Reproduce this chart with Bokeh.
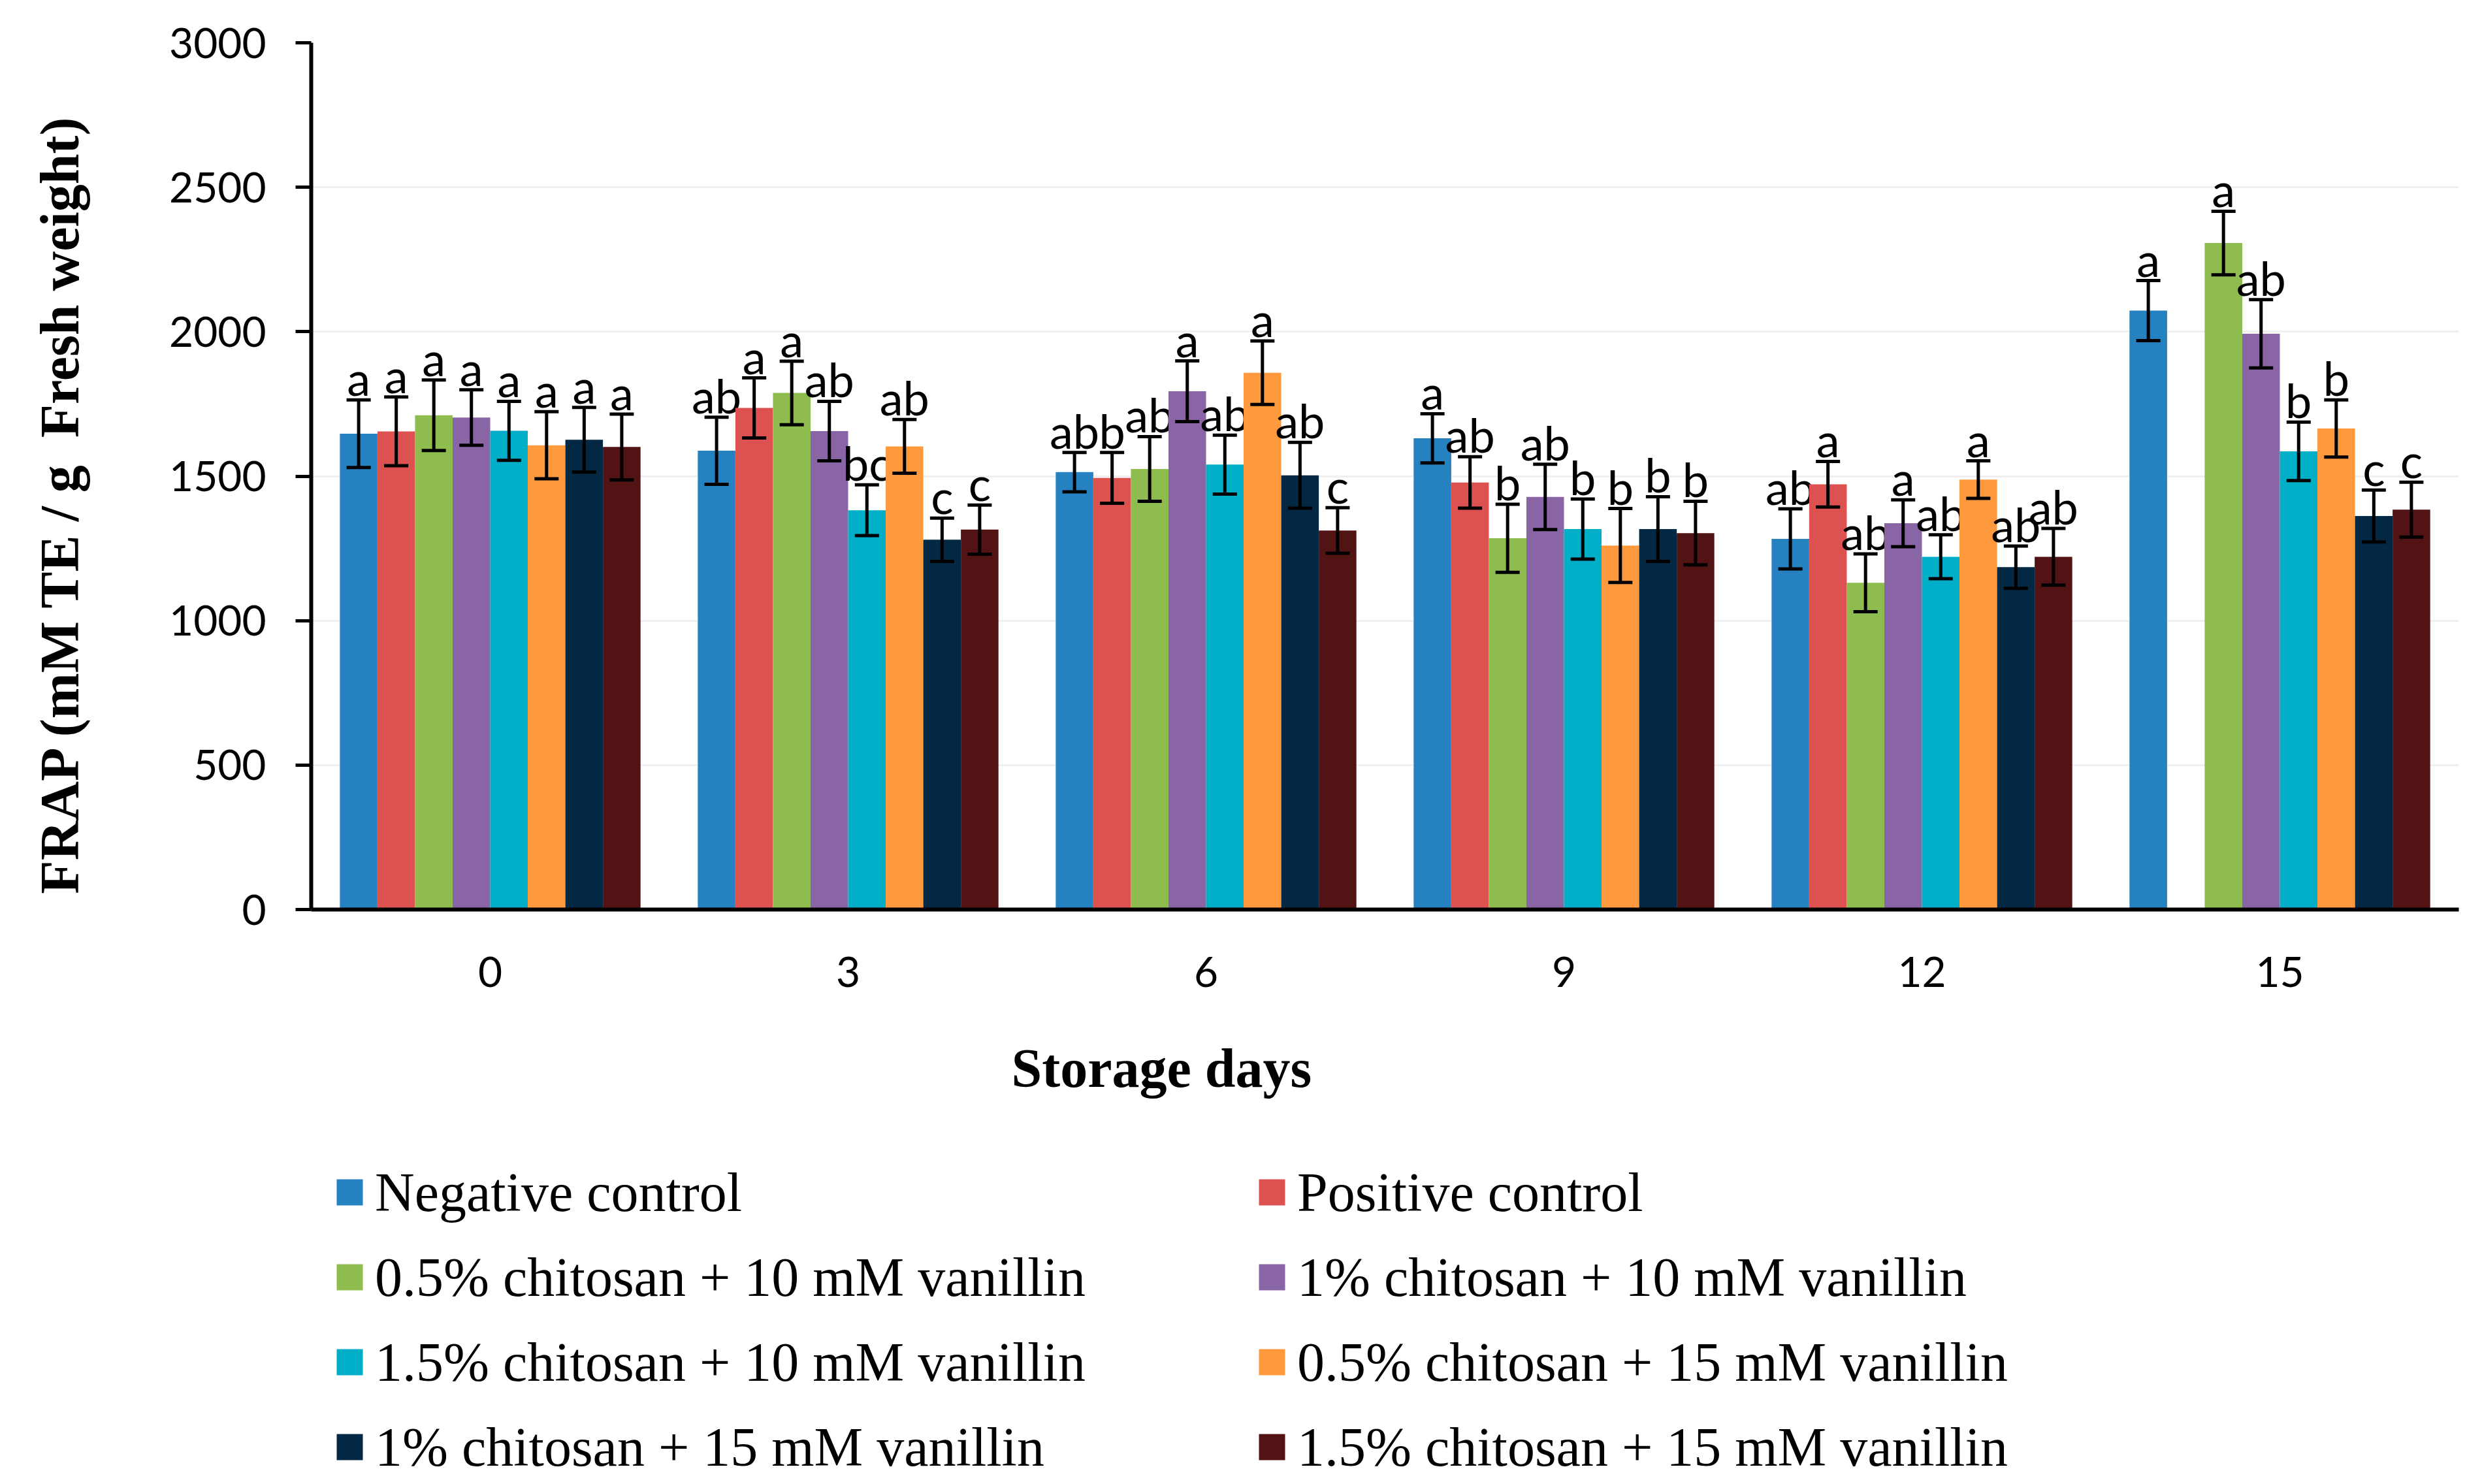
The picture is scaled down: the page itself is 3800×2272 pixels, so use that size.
from bokeh.plotting import figure
from bokeh.models import (ColumnDataSource, FactorRange, Range1d, Legend, LegendItem,
                          Title, FixedTicker)
from bokeh.layouts import column
from bokeh.transform import dodge
from bokeh.core.properties import value
from bokeh.embed import file_html
from bokeh.resources import INLINE

nan = float("nan")

days = ["0", "3", "6", "9", "12", "15"]
y_ticks = [0, 500, 1000, 1500, 2000, 2500, 3000]

series_names = [
    "Negative control",
    "Positive control",
    "0.5% chitosan + 10 mM vanillin",
    "1% chitosan + 10 mM vanillin",
    "1.5% chitosan + 10 mM vanillin",
    "0.5% chitosan + 15 mM vanillin",
    "1% chitosan + 15 mM vanillin",
    "1.5% chitosan + 15 mM vanillin",
]
colors = ["#2681C1", "#DD5150", "#8FBC4F", "#8A65A5", "#00AEC7", "#FE9A3D", "#032843", "#521314"]

neg_control = [1647, 1588, 1514, 1631, 1283, 2073]
pos_control = [1655, 1736, 1494, 1478, 1472, nan]
chi05_van10 = [1711, 1788, 1525, 1285, 1131, 2307]
chi1_van10 = [1703, 1656, 1794, 1428, 1337, 1993]
chi15_van10 = [1657, 1382, 1540, 1317, 1221, 1586]
chi05_van15 = [1607, 1603, 1858, 1260, 1488, 1665]
chi1_van15 = [1626, 1280, 1503, 1317, 1185, 1362]
chi15_van15 = [1601, 1315, 1312, 1303, 1221, 1384]

neg_control_err = [117, 116, 68, 85, 104, 104]
pos_control_err = [119, 104, 88, 89, 79, nan]
chi05_van10_err = [122, 110, 112, 118, 100, 110]
chi1_van10_err = [96, 103, 105, 113, 81, 118]
chi15_van10_err = [102, 88, 102, 104, 76, 101]
chi05_van15_err = [116, 93, 110, 128, 65, 99]
chi1_van15_err = [112, 75, 114, 112, 73, 90]
chi15_van15_err = [114, 85, 79, 110, 98, 95]

neg_control_lbl = ["a", "ab", "ab", "a", "ab", "a"]
pos_control_lbl = ["a", "a", "b", "ab", "a", ""]
chi05_van10_lbl = ["a", "a", "ab", "b", "ab", "a"]
chi1_van10_lbl = ["a", "ab", "a", "ab", "a", "ab"]
chi15_van10_lbl = ["a", "bc", "ab", "b", "ab", "b"]
chi05_van15_lbl = ["a", "ab", "a", "b", "a", "b"]
chi1_van15_lbl = ["a", "c", "ab", "b", "ab", "c"]
chi15_van15_lbl = ["a", "c", "c", "b", "ab", "c"]

means = [neg_control, pos_control, chi05_van10, chi1_van10, chi15_van10, chi05_van15, chi1_van15, chi15_van15]
errs = [neg_control_err, pos_control_err, chi05_van10_err, chi1_van10_err, chi15_van10_err,
        chi05_van15_err, chi1_van15_err, chi15_van15_err]
lbls = [neg_control_lbl, pos_control_lbl, chi05_van10_lbl, chi1_van10_lbl, chi15_van10_lbl,
        chi05_van15_lbl, chi1_van15_lbl, chi15_van15_lbl]

W = 3784
H1 = 1554
H2 = 2256 - H1
FRAME_LEFT = 476
FRAME_RIGHT_GAP = 20

p = figure(x_range=FactorRange(*days, range_padding=0, factor_padding=0),
           y_range=Range1d(0, 3000),
           width=W, height=H1, output_backend="svg", toolbar_location=None,
           min_border_left=FRAME_LEFT, min_border_right=FRAME_RIGHT_GAP, min_border_top=65,
           min_border_bottom=H1 - 1392)
p.background_fill_color = "white"
p.border_fill_color = "white"
p.outline_line_color = None

bar_w = 0.105
sources = []
for k in range(8):
    off = (k - 3.5) * bar_w
    src = ColumnDataSource(dict(
        day=days,
        val=means[k],
        lo=[m - e for m, e in zip(means[k], errs[k])],
        hi=[m + e for m, e in zip(means[k], errs[k])],
        lbl=lbls[k],
    ))
    sources.append(src)
    xd = dodge("day", off, range=p.x_range)
    p.vbar(x=xd, top="val", width=bar_w, source=src, fill_color=colors[k], line_color=None)
    p.segment(x0=xd, y0="lo", x1=xd, y1="hi", source=src, line_color="black", line_width=5)
    p.scatter(x=xd, y="hi", source=src, marker="dash", size=37, line_color="black", line_width=5)
    p.scatter(x=xd, y="lo", source=src, marker="dash", size=37, line_color="black", line_width=5)
    p.text(x=xd, y="hi", text="lbl", source=src, text_align="center", text_baseline="alphabetic",
           y_offset=-34, text_font=value("Lato"), text_font_size=value("72px"), text_color="black")

# axes
p.yaxis.ticker = FixedTicker(ticks=y_ticks)
p.yaxis.axis_line_width = 6
p.yaxis.axis_line_color = "black"
p.yaxis.major_tick_out = 24
p.yaxis.major_tick_in = 0
p.yaxis.major_tick_line_width = 5
p.yaxis.minor_tick_line_color = None
p.yaxis.major_label_standoff = 45
p.yaxis.major_label_text_font = "Lato"
p.yaxis.major_label_text_font_size = "64px"
p.yaxis.major_label_text_color = "black"
p.yaxis.axis_label = "FRAP (mM TE / g \u00a0Fresh weight)\u00a0\u00a0\u00a0\u00a0"
p.yaxis.axis_label_text_font = "Liberation Serif"
p.yaxis.axis_label_text_font_style = "bold"
p.yaxis.axis_label_text_font_size = "84px"
p.yaxis.axis_label_text_color = "black"
p.yaxis.axis_label_standoff = 118

p.xaxis.axis_line_width = 6
p.xaxis.axis_line_color = "black"
p.xaxis.major_tick_line_color = None
p.xaxis.minor_tick_line_color = None
p.xaxis.major_label_standoff = 66
p.xaxis.major_label_text_font = "Lato"
p.xaxis.major_label_text_font_size = "64px"
p.xaxis.major_label_text_color = "black"

p.xgrid.visible = False
p.ygrid.grid_line_color = "#F0F0F0"
p.ygrid.grid_line_width = 3

# lower panel: x-axis title and legend
p2 = figure(width=W, height=H2, output_backend="svg", toolbar_location=None,
            x_range=p.x_range, y_range=Range1d(5000, 6000),
            x_axis_location=None, y_axis_location=None,
            min_border_left=FRAME_LEFT, min_border_right=FRAME_RIGHT_GAP,
            min_border_top=0, min_border_bottom=0)
p2.outline_line_color = None
p2.grid.visible = False
p2.background_fill_color = "white"
p2.border_fill_color = "white"

# legend-only renderers (same data, outside this panel's visible range)
swatches = [p2.vbar(x=dodge("day", (k - 3.5) * bar_w, range=p.x_range), top="val", width=bar_w,
                    source=sources[k], fill_color=colors[k], line_color=None) for k in range(8)]

title = Title(text="Storage days", align="left", offset=1072, standoff=64,
              text_font="Liberation Serif", text_font_size="84px", text_font_style="bold",
              text_color="black")
p2.add_layout(title, "above")

items = [LegendItem(label=series_names[k], renderers=[swatches[k]]) for k in range(8)]
legend = Legend(items=items, orientation="horizontal", ncols=2, location=(34, -9),
                glyph_width=50, glyph_height=50, label_standoff=14, label_width=1318,
                label_height=100, spacing=30, padding=0, margin=0,
                border_line_color=None, background_fill_alpha=0,
                label_text_font="Liberation Serif", label_text_font_size="84px",
                label_text_color="black")
p2.add_layout(legend, "center")

layout = column(p, p2, spacing=0)
open("out.html", "w").write(file_html(layout, INLINE))
